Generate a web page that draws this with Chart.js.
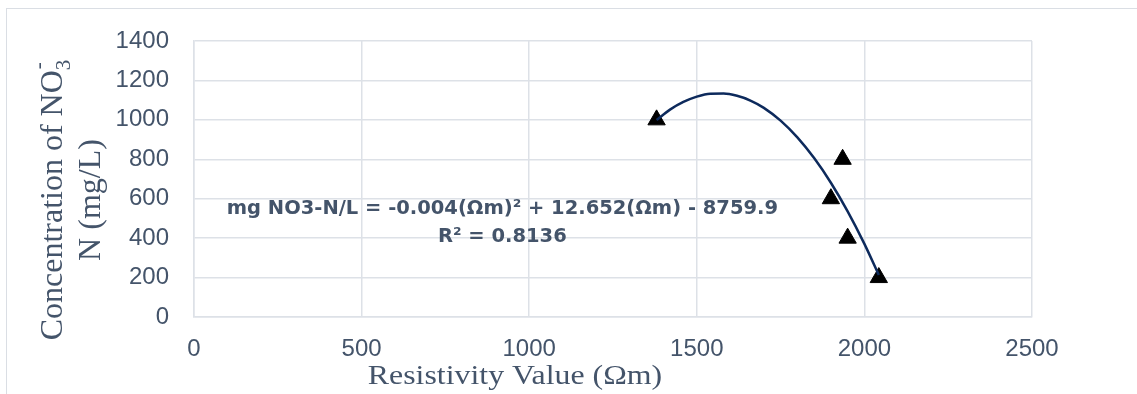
<!DOCTYPE html>
<html>
<head>
<meta charset="utf-8">
<script src="https://cdn.jsdelivr.net/npm/chart.js@4.4.0/dist/chart.umd.min.js"></script>
<style>
  html, body { margin: 0; padding: 0; background: #fff; overflow: hidden; }
  #wrap { position: relative; width: 1137px; height: 394px; }
  #frame { position: absolute; left: 6px; top: 8px; width: 1300px; height: 500px;
           border-left: 1px solid #dadee4; border-top: 1px solid #dadee4; }
  #box { position: absolute; left: 0; top: 0; width: 1137px; height: 394px; }
</style>
</head>
<body>
<div id="wrap">
  <div id="frame"></div>
  <div id="box"><canvas id="chart"></canvas></div>
</div>
<script>
// Titik pengukuran (resistivitas vs konsentrasi)
const resistivity = [1380, 1935, 1900, 1950, 2043];
const concentration = [1000, 800, 600, 400, 200];

// Garis tren polinomial
const trendX = [1380, 1420, 1460, 1500, 1540, 1580, 1620, 1660, 1700, 1750, 1800, 1850, 1900, 1950, 2000, 2043];
const trendY = [999, 1052, 1091, 1118, 1133, 1134, 1122, 1098, 1061, 996, 911, 806, 681, 536, 371, 213];

// Label sumbu dan persamaan
const xTitle = 'Resistivity Value (\u03A9m)';
const yTitle1 = 'Concentration of NO';
const yTitle2 = 'N (mg/L)';
const eqLines = ['mg NO3-N/L = -0.004(\u03A9m)\u00B2 + 12.652(\u03A9m) - 8759.9', 'R\u00B2 = 0.8136'];
const eqAnchor = [920, 524];

const textColor = '#44546a';
const gridColor = '#dde1e7';

// Plugin untuk judul sumbu dan persamaan
const textPlugin = {
    id: 'texts',
    afterDraw(chart) {
        const { ctx, scales } = chart;
        ctx.save();
        ctx.fillStyle = textColor;
        ctx.textBaseline = 'alphabetic';

        // persamaan tren
        ctx.font = 'bold 19.5px "DejaVu Sans"';
        ctx.textAlign = 'center';
        const ex = scales.x.getPixelForValue(eqAnchor[0]);
        const ey = scales.y.getPixelForValue(eqAnchor[1]);
        ctx.fillText(eqLines[0], ex, ey);
        ctx.fillText(eqLines[1], ex, ey + 28);

        // judul sumbu x
        ctx.save();
        ctx.translate(515, 384);
        ctx.scale(1.18, 1);
        ctx.font = '27px "Liberation Serif"';
        ctx.fillText(xTitle, 0, 0);
        ctx.restore();

        // judul sumbu y (dua baris, dengan subskrip/superskrip)
        ctx.save();
        ctx.translate(62, 200);
        ctx.rotate(-Math.PI / 2);
        ctx.textAlign = 'left';
        ctx.font = '32px "Liberation Serif"';
        const w1 = ctx.measureText(yTitle1).width;
        ctx.font = '21px "Liberation Serif"';
        const w3 = ctx.measureText('3').width;
        const total = w1 + w3;
        let px = -total / 2;
        ctx.font = '32px "Liberation Serif"';
        ctx.fillText(yTitle1, px, 0);
        px += w1;
        ctx.font = '21px "Liberation Serif"';
        ctx.fillText('3', px, 8);
        ctx.fillText('-', px + 1, -17);
        ctx.font = '32px "Liberation Serif"';
        ctx.textAlign = 'center';
        ctx.fillText(yTitle2, 0, 38);
        ctx.restore();

        ctx.restore();
    }
};

const config = {
    type: 'scatter',
    data: {
        datasets: [{
            type: 'line',
            data: trendX.map((v, i) => ({ x: v, y: trendY[i] })),
            borderColor: '#0d2a5c',
            borderWidth: 2.5,
            pointRadius: 0,
            fill: false,
            cubicInterpolationMode: 'monotone',
            order: 0
        }, {
            data: resistivity.map((v, i) => ({ x: v, y: concentration[i] })),
            pointStyle: 'triangle',
            pointRadius: 10,
            backgroundColor: '#000',
            borderColor: '#000',
            borderWidth: 1,
            order: 1
        }]
    },
    options: {
        responsive: true,
        maintainAspectRatio: false,
        animation: false,
        layout: { padding: { top: 41, right: 105, bottom: 0, left: 0 } },
        plugins: {
            legend: { display: false },
            tooltip: { enabled: false }
        },
        scales: {
            x: {
                type: 'linear',
                min: 0,
                max: 2500,
                afterFit: s => { s.height = 77; },
                ticks: {
                    stepSize: 500,
                    padding: 18,
                    color: textColor,
                    font: { family: 'Liberation Sans', size: 24 },
                    callback: value => String(value)
                },
                grid: { color: gridColor, lineWidth: 1.5, drawTicks: false },
                border: { color: gridColor, width: 1.5 }
            },
            y: {
                min: 0,
                max: 1400,
                afterFit: s => { s.width = 194; },
                ticks: {
                    stepSize: 200,
                    padding: 25,
                    color: textColor,
                    font: { family: 'Liberation Sans', size: 24 },
                    callback: value => String(value)
                },
                grid: { color: gridColor, lineWidth: 1.5, drawTicks: false },
                border: { color: gridColor, width: 1.5 }
            }
        }
    },
    plugins: [textPlugin]
};

let myChart;
window.addEventListener('load', () => {
    const ctx = document.getElementById('chart').getContext('2d');
    myChart = new Chart(ctx, config);
});
</script>
</body>
</html>
